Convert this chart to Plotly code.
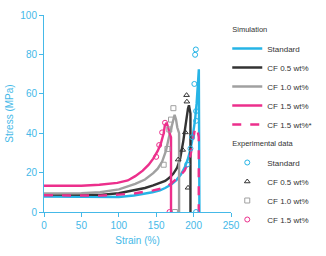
import plotly.graph_objects as go

# ---- simulated curves (strain %, stress MPa) ----
cyan_x = [0, 25, 50, 75, 100, 120, 135, 145, 155, 162, 170, 177, 183, 188, 192, 195, 198, 200, 202, 204, 205.5, 207, 207.8]
cyan_y = [7.9, 7.8, 7.6, 7.4, 7.6, 8.4, 9.2, 10.0, 11.0, 12.2, 14.0, 16.2, 19.0, 22.5, 26.5, 30.5, 36.0, 41.0, 47.0, 55.0, 62.0, 72.4, 0]

black_x = [0, 25, 50, 75, 100, 122, 135, 146, 155, 162, 168, 173, 178, 182, 186, 188.5, 190.6, 192.5, 193.8, 195, 195.8, 195.8]
black_y = [8.9, 8.8, 8.7, 8.7, 9.5, 11.0, 12.2, 13.5, 14.6, 15.8, 17.5, 19.5, 22.5, 27.0, 35.5, 42.0, 48.8, 52.5, 54.2, 52.0, 50.0, 0]

gray_x = [0, 25, 50, 75, 100, 122, 135, 146, 152, 158, 163, 167, 170, 172, 174.6, 176.5, 178.2, 180.6, 180.6]
gray_y = [9.4, 9.3, 9.5, 10.0, 11.5, 14.3, 16.5, 19.7, 22.0, 25.6, 31.0, 37.9, 43.0, 46.3, 49.3, 47.0, 42.9, 40.0, 0]

pink_x = [0, 25, 50, 74, 98, 112, 122, 132, 140, 146, 152, 156, 158, 160, 161.5, 163.9, 166, 167.4, 169.8, 169.8]
pink_y = [13.3, 13.2, 13.3, 13.8, 14.8, 16.0, 18.2, 21.0, 24.0, 27.1, 31.0, 34.5, 36.9, 40.0, 43.8, 45.3, 43.0, 40.4, 38.0, 0]

pinkd_x = [0, 25, 50, 75, 100, 122, 146, 161.5, 170, 176, 182, 188, 192, 196, 198, 200, 201.5, 203.3, 205, 206, 206.9, 206.9]
pinkd_y = [8.5, 8.4, 8.3, 8.3, 8.8, 9.5, 11.0, 12.3, 14.5, 16.5, 18.5, 21.0, 24.5, 29.0, 33.0, 38.9, 41.5, 42.9, 42.0, 40.0, 38.0, 0]

# ---- experimental points ----
exp_c_x = [191.4, 195.8, 198.0, 201.0, 203.3, 203.3, 202.0, 203.0, 203.3]
exp_c_y = [24.1, 32.2, 38.0, 65.0, 51.2, 46.3, 79.8, 82.5, 0]
exp_t_x = [179.4, 185.4, 189.0, 190.6, 191.0, 192.6]
exp_t_y = [26.6, 31.5, 40.4, 59.3, 56.0, 12.3]
exp_s_x = [160.0, 165.0, 167.5, 169.8, 173.0, 175.0]
exp_s_y = [24.0, 32.0, 41.9, 46.9, 52.7, 0]
exp_p_x = [150.0, 154.0, 157.9, 161.8, 167.8]
exp_p_y = [28.0, 34.0, 40.4, 45.3, 0]

sim_names = ["Standard", "CF 0.5 wt%", "CF 1.0 wt%", "CF 1.5 wt%", "CF 1.5 wt%*"]
exp_names = ["Standard", "CF 0.5 wt%", "CF 1.0 wt%", "CF 1.5 wt%"]

CYAN = "#26b4e6"
BLACK = "#333333"
GRAY = "#a0a0a0"
PINK = "#ec2f8c"
AX = "#45b9e8"

fig = go.Figure()
sims = [(cyan_x, cyan_y, CYAN, "solid"), (black_x, black_y, BLACK, "solid"),
        (gray_x, gray_y, GRAY, "solid"), (pink_x, pink_y, PINK, "solid"),
        (pinkd_x, pinkd_y, PINK, "dash")]
for i, (xs, ys, c, d) in enumerate(sims):
    fig.add_trace(go.Scatter(
        x=xs, y=ys, mode="lines", name=sim_names[i],
        line=dict(color=c, width=2.4, dash=d),
        legendgroup="sim",
        legendgrouptitle=dict(text="Simulation") if i == 0 else None))

exps = [(exp_c_x, exp_c_y, CYAN, "circle-open"), (exp_t_x, exp_t_y, BLACK, "triangle-up-open"),
        (exp_s_x, exp_s_y, GRAY, "square-open"), (exp_p_x, exp_p_y, PINK, "circle-open")]
for i, (xs, ys, c, s) in enumerate(exps):
    fig.add_trace(go.Scatter(
        x=xs, y=ys, mode="markers", name=exp_names[i],
        marker=dict(color=c, symbol=s, size=5, line=dict(width=1, color=c)),
        legendgroup="exp",
        legendgrouptitle=dict(text="Experimental data") if i == 0 else None))

axis_common = dict(showline=True, linecolor=AX, linewidth=1, showgrid=False, zeroline=False,
                   ticks="outside", ticklen=4, tickcolor=AX,
                   tickfont=dict(color=AX, size=10), mirror=False)
fig.update_xaxes(range=[0, 250], dtick=50, title=dict(text="Strain (%)", font=dict(color=AX, size=10), standoff=6), **axis_common)
fig.update_yaxes(range=[0, 100], dtick=20, title=dict(text="Stress (MPa)", font=dict(color=AX, size=10), standoff=4), **axis_common)

fig.update_layout(
    width=326, height=256,
    margin=dict(l=38, r=79, t=9, b=44),
    paper_bgcolor="white", plot_bgcolor="white",
    font=dict(family="Liberation Sans, Arial, sans-serif", color="#333"),
    legend=dict(x=0.98, y=1.0, xanchor="left", yanchor="top",
                font=dict(size=8, color="#333"), tracegroupgap=0,
                itemwidth=30, bgcolor="rgba(0,0,0,0)", maxheight=250,
                grouptitlefont=dict(size=7.5, color="#333")),
)

fig.write_html("out.html")
